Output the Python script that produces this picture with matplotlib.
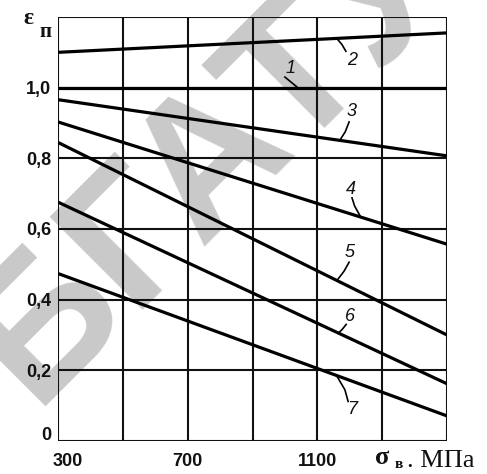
import matplotlib
matplotlib.use("Agg")
import matplotlib.pyplot as plt
from matplotlib.transforms import ScaledTranslation

# ---- data ----
x_vals = [300, 1500]
line1 = [1.000, 1.000]
line2 = [1.100, 1.155]
line3 = [0.966, 0.807]
line4 = [0.903, 0.557]
line5 = [0.845, 0.300]
line6 = [0.676, 0.162]
line7 = [0.474, 0.071]
series = [line1, line2, line3, line4, line5, line6, line7]
series_names = ["1", "2", "3", "4", "5", "6", "7"]

# label text positions and leader lines (data coords)
label_pos = {
    "1": (1016, 1.054), "2": (1207, 1.077), "3": (1207, 0.932), "4": (1204, 0.713),
    "5": (1201, 0.534), "6": (1201, 0.352), "7": (1207, 0.088),
}
leaders = {
    "1": [(1000, 1.030), (1037, 1.002)],
    "2": [(1188, 1.103), (1176, 1.122), (1161, 1.138)],
    "3": [(1198, 0.903), (1186, 0.875), (1170, 0.852)],
    "4": [(1207, 0.688), (1215, 0.665), (1232, 0.637)],
    "5": [(1198, 0.506), (1182, 0.480), (1161, 0.455)],
    "6": [(1189, 0.330), (1176, 0.315), (1164, 0.305)],
    "7": [(1195, 0.112), (1185, 0.145), (1160, 0.184)],
}

xticks = [300, 700, 1100]
xtick_labels = ["300", "700", "1100"]
yticks = [0, 0.2, 0.4, 0.6, 0.8, 1.0]
ytick_labels = ["0", "0,2", "0,4", "0,6", "0,8", "1,0"]
xgrid = [300, 500, 700, 900, 1100, 1300, 1500]
ygrid = [0, 0.2, 0.4, 0.6, 0.8, 1.0, 1.2]

W, H = 487, 474
fig = plt.figure(figsize=(W / 100, H / 100), dpi=100)
fig.patch.set_facecolor("white")

# watermark
fig.text(210 / W, 1 - 160 / H, "БГАТУ", rotation=45, rotation_mode="anchor",
         ha="center", va="center", fontsize=138, fontweight="bold",
         family="Liberation Sans", color="#c9c9c9", zorder=-5)

ax = fig.add_axes([58 / W, 1 - 441 / H, (447 - 58) / W, (441 - 17) / H])
ax.set_facecolor("none")
ax.set_xlim(300, 1500)
ax.set_ylim(0, 1.2)

for gx in xgrid:
    ax.axvline(gx, color="#111111", lw=1.5, zorder=2)
for gy in ygrid:
    ax.axhline(gy, color="#111111", lw=1.5, zorder=2)

for s in series:
    ax.plot(x_vals, s, color="black", lw=2.3, zorder=3, solid_capstyle="butt")

for name in series_names:
    tx, ty = label_pos[name]
    ax.text(tx, ty, name, ha="center", va="center", fontsize=13,
            family="Liberation Sans", style="italic", color="#111111", zorder=4)
    pts = leaders[name]
    ax.plot([p[0] for p in pts], [p[1] for p in pts], color="black", lw=1.2, zorder=4)

for sp in ax.spines.values():
    sp.set_visible(False)

ax.set_xticks(xticks)
ax.set_xticklabels(xtick_labels)
ax.set_yticks(yticks)
ax.set_yticklabels(ytick_labels)
ax.tick_params(length=0, pad=6)
for lab in ax.get_xticklabels() + ax.get_yticklabels():
    lab.set_family(["Liberation Sans Narrow", "Liberation Sans"])
    lab.set_fontweight("bold")
    lab.set_fontsize(13)
    lab.set_color("#111111")
ax.tick_params(axis="x", pad=9)
ax.tick_params(axis="y", pad=5)
xl = ax.get_xticklabels()
xl[0].set_transform(xl[0].get_transform() + ScaledTranslation(10 / 100, 0, fig.dpi_scale_trans))
yl = ax.get_yticklabels()
yl[0].set_transform(yl[0].get_transform() + ScaledTranslation(0, 8 / 100, fig.dpi_scale_trans))

# axis titles
fig.text(28 / W, 1 - 19 / H, "ε", ha="center", va="center", fontsize=17,
         family="Liberation Serif", fontweight="bold", color="#111111")
fig.text(45 / W, 1 - 32 / H, "п", ha="center", va="center", fontsize=15,
         family="Liberation Serif", fontweight="bold", color="#111111")
fig.text(382 / W, 1 - 458 / H, "σ", ha="center", va="center", fontsize=19,
         family="Liberation Serif", fontweight="bold", color="#111111")
fig.text(399 / W, 1 - 465 / H, "в", ha="center", va="center", fontsize=11,
         family="Liberation Serif", fontweight="bold", color="#111111")
fig.text(407 / W, 1 - 461 / H, ". МПа", ha="left", va="center", fontsize=19,
         family="Liberation Serif", color="#111111")

fig.savefig("out.png", dpi=100)
